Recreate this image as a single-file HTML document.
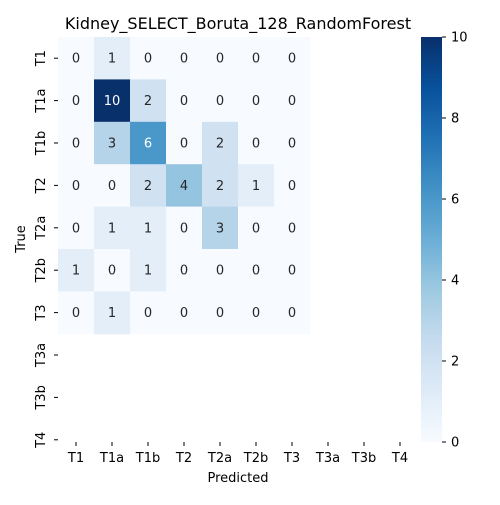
<!DOCTYPE html>
<html><head><meta charset="utf-8"><style>
body{margin:0;background:#fff;}
svg text{font-family:"DejaVu Sans","Liberation Sans",sans-serif;}
</style></head><body>
<svg id="chart" width="500" height="500" viewBox="0 0 500 500" xmlns="http://www.w3.org/2000/svg">
<defs><linearGradient id="cbg" x1="0" y1="1" x2="0" y2="0">
<stop offset="0" stop-color="#f7fbff"/><stop offset="0.125" stop-color="#deebf7"/><stop offset="0.25" stop-color="#c6dbef"/><stop offset="0.375" stop-color="#9ecae1"/><stop offset="0.5" stop-color="#6baed6"/><stop offset="0.625" stop-color="#4292c6"/><stop offset="0.75" stop-color="#2171b5"/><stop offset="0.875" stop-color="#08519c"/><stop offset="1" stop-color="#08306b"/>
</linearGradient></defs>
<text x="238" y="29" font-size="16" text-anchor="middle">Kidney_SELECT_Boruta_128_RandomForest</text>
<g id="cells"></g>
<g id="axes"></g>
<rect x="421" y="37" width="21" height="405" fill="url(#cbg)"/>
<g id="cbticks"></g>
<text x="238" y="482" font-size="13" text-anchor="middle">Predicted</text>
<text transform="translate(25,239) rotate(-90)" font-size="13" text-anchor="middle">True</text>
</svg>
<script>
const xLabels=["T1","T1a","T1b","T2","T2a","T2b","T3","T3a","T3b","T4"];
const yLabels=["T1","T1a","T1b","T2","T2a","T2b","T3","T3a","T3b","T4"];
const row0=[0,1,0,0,0,0,0];
const row1=[0,10,2,0,0,0,0];
const row2=[0,3,6,0,2,0,0];
const row3=[0,0,2,4,2,1,0];
const row4=[0,1,1,0,3,0,0];
const row5=[1,0,1,0,0,0,0];
const row6=[0,1,0,0,0,0,0];
const matrix=[row0,row1,row2,row3,row4,row5,row6];
const cbTicks=[0,2,4,6,8,10];
const vmax=10;
const NS="http://www.w3.org/2000/svg";
const x0=58,cw=36,y0=37,rh=42.4;
const xc=j=>x0+cw*(j+0.5), yc=i=>y0+rh*(i+0.5);
const stops=[[247,251,255],[222,235,247],[198,219,239],[158,202,225],[107,174,214],[66,146,198],[33,113,181],[8,81,156],[8,48,107]];
function color(v){let t=v/vmax*(stops.length-1);let k=Math.min(Math.floor(t),stops.length-2);let f=t-k;
const c=stops[k].map((a,i)=>Math.round(a+(stops[k+1][i]-a)*f));return `rgb(${c})`;}
function mk(tag,attrs,parent){const e=document.createElementNS(NS,tag);for(const k in attrs)e.setAttribute(k,attrs[k]);parent.appendChild(e);return e;}
const cells=document.getElementById('cells');
matrix.forEach((row,i)=>row.forEach((v,j)=>{
const r=mk('rect',{x:x0+cw*j,y:y0+rh*i,width:cw+0.5,height:rh+0.5,fill:color(v)},cells);


const t=mk('text',{x:xc(j),y:yc(i)+4.5,'font-size':13,'text-anchor':'middle',fill:v>vmax/2?'#fff':'#262626'},cells);


t.textContent=v;
}));
const ax=document.getElementById('axes');
xLabels.forEach((l,j)=>{
mk('line',{x1:xc(j),x2:xc(j),y1:442,y2:446,stroke:'#000'},ax);
const t=mk('text',{x:xc(j),y:462,'font-size':13,'text-anchor':'middle'},ax);


t.textContent=l;});
yLabels.forEach((l,i)=>{
mk('line',{x1:54,x2:58,y1:yc(i),y2:yc(i),stroke:'#000'},ax);
const t=mk('text',{transform:`translate(45,${yc(i)}) rotate(-90)`,'font-size':13,'text-anchor':'middle'},ax);


t.textContent=l;});
const cb=document.getElementById('cbticks');
cbTicks.forEach(v=>{const y=442-405*v/vmax;
mk('line',{x1:442,x2:446,y1:y,y2:y,stroke:'#000'},cb);
const t=mk('text',{x:451,y:y+4.5,'font-size':13},cb);


t.textContent=v;});
</script>
</body></html>
